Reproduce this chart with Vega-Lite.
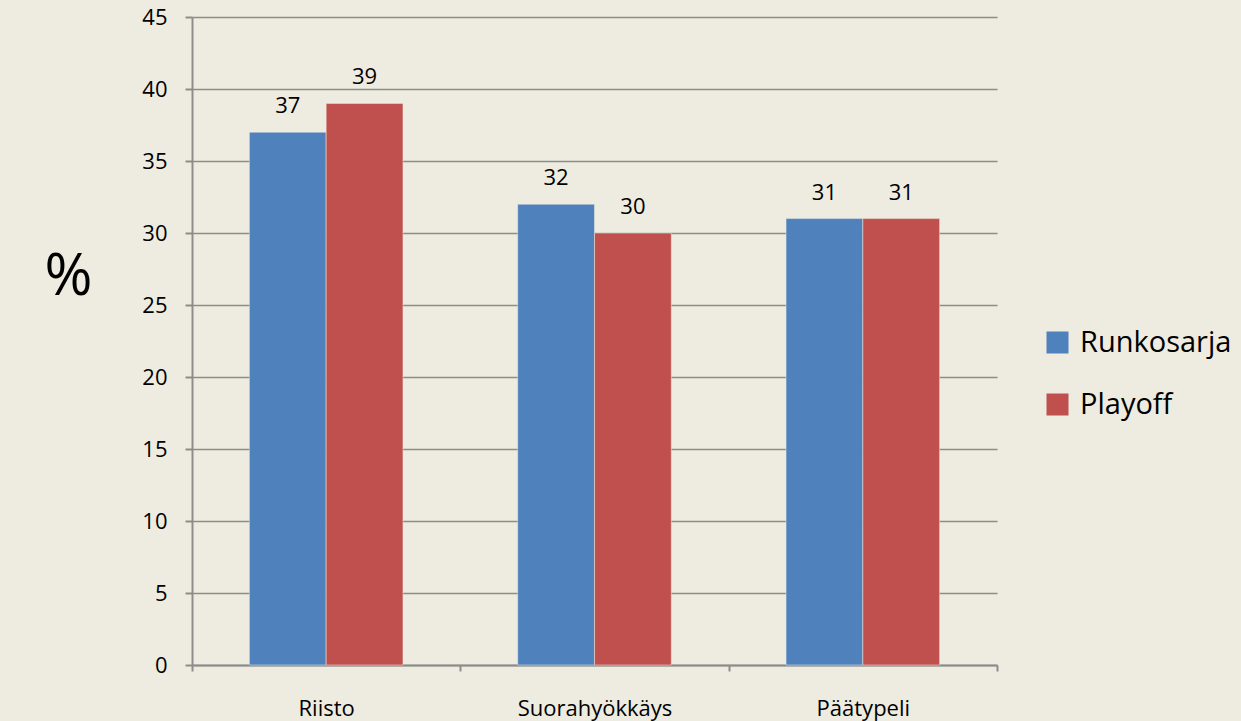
{
  "$schema": "https://vega.github.io/schema/vega-lite/v6.json",
  "autosize": "none",
  "padding": {"left": 192, "top": 17, "right": 244, "bottom": 56},
  "width": 805,
  "height": 648,
  "background": "#EEECE1",
  "config": {
    "view": {"stroke": null},
    "font": "Open Sans"
  },
  "data": {
    "values": [
      {"kategoria": "Riisto", "sarja": "Runkosarja", "arvo": 37},
      {"kategoria": "Riisto", "sarja": "Playoff", "arvo": 39},
      {"kategoria": "Suorahyökkäys", "sarja": "Runkosarja", "arvo": 32},
      {"kategoria": "Suorahyökkäys", "sarja": "Playoff", "arvo": 30},
      {"kategoria": "Päätypeli", "sarja": "Runkosarja", "arvo": 31},
      {"kategoria": "Päätypeli", "sarja": "Playoff", "arvo": 31}
    ]
  },
  "encoding": {
    "x": {
      "field": "kategoria",
      "type": "nominal",
      "sort": ["Riisto", "Suorahyökkäys", "Päätypeli"],
      "scale": {"paddingInner": 0, "paddingOuter": 0},
      "axis": {
        "title": null,
        "labelAngle": 0,
        "labelFontSize": 22,
        "labelColor": "#000000",
        "labelBaseline": "alphabetic",
        "labelPadding": 44,
        "tickBand": "extent",
        "tickSize": 6,
        "tickColor": "#8C8C8C",
        "tickWidth": 2,
        "domainColor": "#8C8C8C",
        "domainWidth": 2,
        "grid": false
      }
    },
    "xOffset": {
      "field": "sarja",
      "type": "nominal",
      "sort": ["Runkosarja", "Playoff"],
      "scale": {"paddingInner": 0, "paddingOuter": 0.747}
    },
    "y": {
      "field": "arvo",
      "type": "quantitative",
      "scale": {"domain": [0, 45], "nice": false},
      "axis": {
        "values": [0, 5, 10, 15, 20, 25, 30, 35, 40, 45],
        "title": "%",
        "titleAngle": 0,
        "titleFontSize": 58,
        "titleFontWeight": "normal",
        "titleX": -124,
        "titleY": 260,
        "titleAlign": "center",
        "titleBaseline": "middle",
        "titleColor": "#000000",
        "labelFontSize": 22,
        "labelColor": "#000000",
        "labelPadding": 18,
        "tickSize": 7,
        "tickColor": "#8C8C8C",
        "tickWidth": 2,
        "domainColor": "#8C8C8C",
        "domainWidth": 2,
        "grid": true,
        "gridColor": "#8C8C8C",
        "gridWidth": 1.6
      }
    }
  },
  "layer": [
    {
      "mark": {"type": "bar", "stroke": "#EEECE1", "strokeWidth": 0.5},
      "encoding": {
        "color": {
          "field": "sarja",
          "type": "nominal",
          "sort": ["Runkosarja", "Playoff"],
          "scale": {"domain": ["Runkosarja", "Playoff"], "range": ["#4F81BD", "#C0504D"]},
          "legend": {
            "title": null,
            "orient": "none",
            "legendX": 851,
            "legendY": 311,
            "padding": 0,
            "symbolType": "square",
            "symbolSize": 484,
            "symbolStrokeWidth": 0,
            "labelFontSize": 29,
            "labelColor": "#000000",
            "labelOffset": 8,
            "rowPadding": 32,
            "labelLimit": 300
          }
        }
      }
    },
    {
      "mark": {"type": "text", "dy": -26, "fontSize": 22, "color": "#000000"},
      "encoding": {
        "text": {"field": "arvo", "type": "quantitative"}
      }
    }
  ]
}
